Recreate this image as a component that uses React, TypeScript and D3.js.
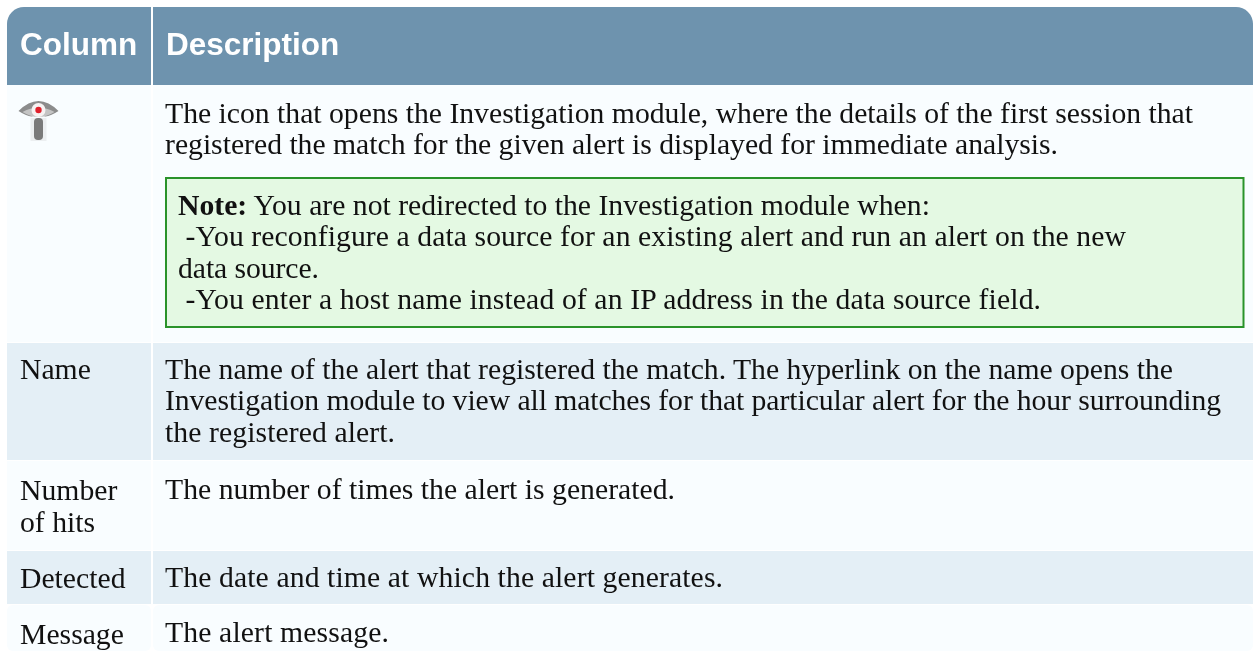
import { useEffect, useRef } from 'react';
import * as d3 from 'd3';

const width = 1253;
const height = 652;

const headers = ['Column', 'Description'];
const rowNames = [['Name'], ['Number', 'of hits'], ['Detected'], ['Message']];
const rowText = [
  [
    'The name of the alert that registered the match. The hyperlink on the name opens the',
    'Investigation module to view all matches for that particular alert for the hour surrounding',
    'the registered alert.',
  ],
  ['The number of times the alert is generated.'],
  ['The date and time at which the alert generates.'],
  ['The alert message.'],
];
const iconText = [
  'The icon that opens the Investigation module, where the details of the first session that',
  'registered the match for the given alert is displayed for immediate analysis.',
];
const noteLines = [
  ' You are not redirected to the Investigation module when:',
  '\u00a0-You reconfigure a data source for an existing alert and run an alert on the new',
  'data source.',
  '\u00a0-You enter a host name instead of an IP address in the data source field.',
];
const rowEdges = [85, 342, 460, 550, 604, 652];

const serif = '"Liberation Serif", serif';
const sans = '"Liberation Sans", sans-serif';

const App = () => {
  const svgRef = useRef<SVGSVGElement>(null);

  useEffect(() => {
    const svg = d3.select(svgRef.current);
    svg.selectAll('*').remove();

    const left = 7;
    const right = 1253;
    const split = 152;
    const lineH = 31.5;
    const fontSize = 29.7;
    const soft = 'blur(0.35px)';

    svg.append('rect').attr('width', width).attr('height', height).attr('fill', '#fff');

    // header cells
    const r = 17;
    svg.append('path').attr('fill', '#6e93ae')
      .attr('d', `M${left},85V${7 + r}A${r},${r} 0 0 1 ${left + r},7H${split - 1}V85Z`);
    svg.append('path').attr('fill', '#6e93ae')
      .attr('d', `M${split + 1},85V7H${right - r}A${r},${r} 0 0 1 ${right},${7 + r}V85Z`);
    svg.selectAll('.head')
      .data(headers)
      .join('text')
      .attr('class', 'head')
      .attr('x', (d, i) => (i === 0 ? 20 : 166))
      .attr('y', 55)
      .attr('fill', '#fff')
      .attr('font-family', sans)
      .attr('font-weight', 700)
      .attr('font-size', 31.5)
      .style('filter', soft)
      .text(d => d);

    // row backgrounds
    const rows = d3.range(rowEdges.length - 1);
    const cell = (x0: number, x1: number, cls: string) => {
      svg.selectAll(`.${cls}`)
        .data(rows)
        .join('rect')
        .attr('class', cls)
        .attr('x', x0)
        .attr('width', x1 - x0)
        .attr('y', i => rowEdges[i] + (i === 0 ? 0 : 1))
        .attr('height', i => rowEdges[i + 1] - rowEdges[i] - (i === 0 ? 0 : 1) - (i === rows.length - 1 ? 1 : 0))
        .attr('rx', i => (i === rows.length - 1 ? 6 : 0))
        .attr('fill', i => (i % 2 === 0 ? '#f9fdff' : '#e4eff6'));
    };
    cell(left, split - 1, 'colA');
    cell(split + 1, right, 'colB');

    // note box
    svg.append('rect')
      .attr('x', 166).attr('y', 178)
      .attr('width', 1077.5).attr('height', 149)
      .attr('fill', '#e4f9e3')
      .attr('stroke', '#2a932a')
      .attr('stroke-width', 2);

    // ends = right edge of each line in the reference, text is fitted to it
    const addLines = (lines: string[], x: number, y: number, ends: number[] = []) => {
      svg.append('g')
        .style('filter', soft)
        .selectAll('text')
        .data(lines)
        .join('text')
        .attr('x', x)
        .attr('y', (d, i) => y + i * lineH)
        .attr('font-family', serif)
        .attr('font-size', fontSize)
        .attr('fill', '#111')
        .attr('textLength', (d, i) => (ends[i] ? ends[i] - x : null))
        .style('white-space', 'pre')
        .text(d => d);
    };

    addLines(iconText, 165, 122.5, [1193, 1058]);

    const note = svg.append('text')
      .attr('x', 178).attr('y', 214.5)
      .attr('font-family', serif).attr('font-size', fontSize).attr('fill', '#111')
      .style('white-space', 'pre')
      .style('filter', soft);
    note.append('tspan').attr('font-weight', 700).text('Note:');
    note.append('tspan').text(noteLines[0]);
    addLines(noteLines.slice(1), 178, 246, [1126, 319, 1041]);

    const nameBase = [379, 500, 588, 643.5];
    const textBase = [378.5, 498.5, 586.5, 642];
    const textEnds = [[1173, 1221, 395], [675], [723], [389]];
    rowNames.forEach((lines, i) => addLines(lines, 20, nameBase[i]));
    rowText.forEach((lines, i) => addLines(lines, 165, textBase[i], textEnds[i]));

    // eye icon
    const icon = svg.append('g').attr('transform', 'translate(38.5,113)').style('filter', 'blur(0.7px)');
    icon.append('path').attr('fill', '#8c8c8c')
      .attr('d', 'M-20,-2Q0,-22 20,-2Q9,5 5,3L-5,3Q-9,5 -20,-2Z');
    icon.append('path').attr('fill', '#c4c4c4')
      .attr('d', 'M-16,-1Q0,-10 16,-1Q8,4 0,4Q-8,4 -16,-1Z');
    icon.append('circle').attr('r', 7).attr('cy', -3).attr('fill', '#f6f2f2');
    icon.append('circle').attr('r', 3.2).attr('cy', -3).attr('fill', '#e0202c');
    icon.append('rect').attr('x', -8).attr('y', 5).attr('width', 16).attr('height', 23).attr('fill', '#bbb').attr('opacity', 0.2);
    icon.append('rect').attr('x', -4.5).attr('y', 5).attr('width', 9).attr('height', 22).attr('rx', 4).attr('fill', '#7a7a7a');
  }, []);

  return (
    <svg
      ref={svgRef}
      width={width}
      height={height}
      style={{ position: 'absolute', left: 0, top: 0 }}
    />
  );
};

export default App;
